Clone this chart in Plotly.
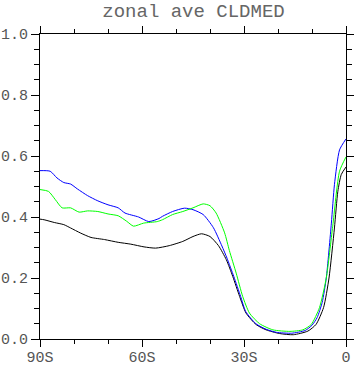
import plotly.graph_objects as go

lat_blue = [-90, -87, -85, -83, -81, -79, -76, -73, -70, -67, -65, -61, -58, -55, -54, -51, -47.5, -45, -42, -39, -36.5, -35, -33, -31, -29.5, -26.5, -23.5, -20.5, -16, -12, -10, -8.5, -7, -5.8, -4.3, -3.4, -1.9, 0]
val_blue = [0.552, 0.550, 0.528, 0.513, 0.508, 0.492, 0.470, 0.453, 0.440, 0.430, 0.413, 0.400, 0.385, 0.395, 0.402, 0.418, 0.429, 0.424, 0.408, 0.365, 0.305, 0.265, 0.205, 0.14, 0.09, 0.05, 0.032, 0.022, 0.019, 0.028, 0.045, 0.07, 0.12, 0.2, 0.38, 0.506, 0.62, 0.656]

lat_green = [-90, -87.5, -85.5, -83.5, -81, -78.5, -76, -73, -70, -67, -64.5, -62.5, -59.5, -55.5, -54, -51, -48, -45, -42, -40, -38.2, -35.7, -34.3, -32.3, -30.4, -28.4, -25.4, -21.5, -16.5, -12.7, -10.2, -7.8, -5.8, -3.9, -1.9, 0]
val_green = [0.49, 0.484, 0.457, 0.43, 0.43, 0.416, 0.42, 0.418, 0.41, 0.404, 0.386, 0.37, 0.38, 0.385, 0.391, 0.408, 0.418, 0.43, 0.443, 0.437, 0.413, 0.348, 0.29, 0.216, 0.14, 0.085, 0.05, 0.03, 0.025, 0.03, 0.048, 0.103, 0.2, 0.37, 0.55, 0.597]

lat_black = [-90, -88.8, -85.8, -83, -81, -78, -75, -71, -67, -63.3, -59.4, -56, -52, -48, -45, -42.5, -40, -37.5, -35.2, -33.3, -31.3, -29.4, -26.4, -23.5, -19.6, -15.5, -11.2, -8.8, -6.6, -5.0, -3.4, -2.4, -1.4, 0]
val_black = [0.393, 0.391, 0.382, 0.375, 0.364, 0.347, 0.333, 0.326, 0.317, 0.311, 0.302, 0.298, 0.306, 0.32, 0.336, 0.345, 0.336, 0.306, 0.26, 0.205, 0.14, 0.085, 0.047, 0.03, 0.018, 0.014, 0.026, 0.048, 0.103, 0.2, 0.364, 0.484, 0.539, 0.564]

x_tickvals = [-90, -60, -30, 0]
x_ticktext = ["90S", "60S", "30S", "0"]
y_tickvals = [0, 0.2, 0.4, 0.6, 0.8, 1.0]
y_ticktext = ["0.0", "0.2", "0.4", "0.6", "0.8", "1.0"]

fig = go.Figure()
for lx, vy, col in [(lat_black, val_black, "#000000"), (lat_blue, val_blue, "#0000ff"), (lat_green, val_green, "#00ff00")]:
    fig.add_trace(go.Scatter(x=lx, y=vy, mode="lines", line=dict(color=col, width=1, shape="spline", smoothing=0.6), showlegend=False, hoverinfo="skip"))

font = dict(family="Liberation Mono", size=15, color="#555555")
axis_common = dict(showline=True, linecolor="#000000", linewidth=1, mirror="allticks", ticks="outside",
                   tickcolor="#000000", tickwidth=1, showgrid=False, zeroline=False, tickfont=font, automargin=False)
fig.update_xaxes(range=[-90, 0], tickvals=x_tickvals, ticktext=x_ticktext, ticklen=7, ticklabelstandoff=-3,
                 minor=dict(dtick=10, tick0=-90, ticks="outside", ticklen=4, tickcolor="#000000", showgrid=False), **axis_common)
fig.update_yaxes(range=[0, 1], tickvals=y_tickvals, ticktext=y_ticktext, ticklen=8,
                 minor=dict(dtick=0.05, tick0=0, ticks="outside", ticklen=5, tickcolor="#000000", showgrid=False), **axis_common)
fig.update_layout(width=354, height=368, margin=dict(l=40, r=8, t=34, b=29, autoexpand=False),
                  paper_bgcolor="white", plot_bgcolor="white",
                  title=dict(text="zonal ave CLDMED", x=193.5/354, xanchor="center", y=1 - 10/368, yanchor="middle",
                             font=dict(family="Liberation Mono", size=19, color="#666666")))
fig.write_html("out.html")
